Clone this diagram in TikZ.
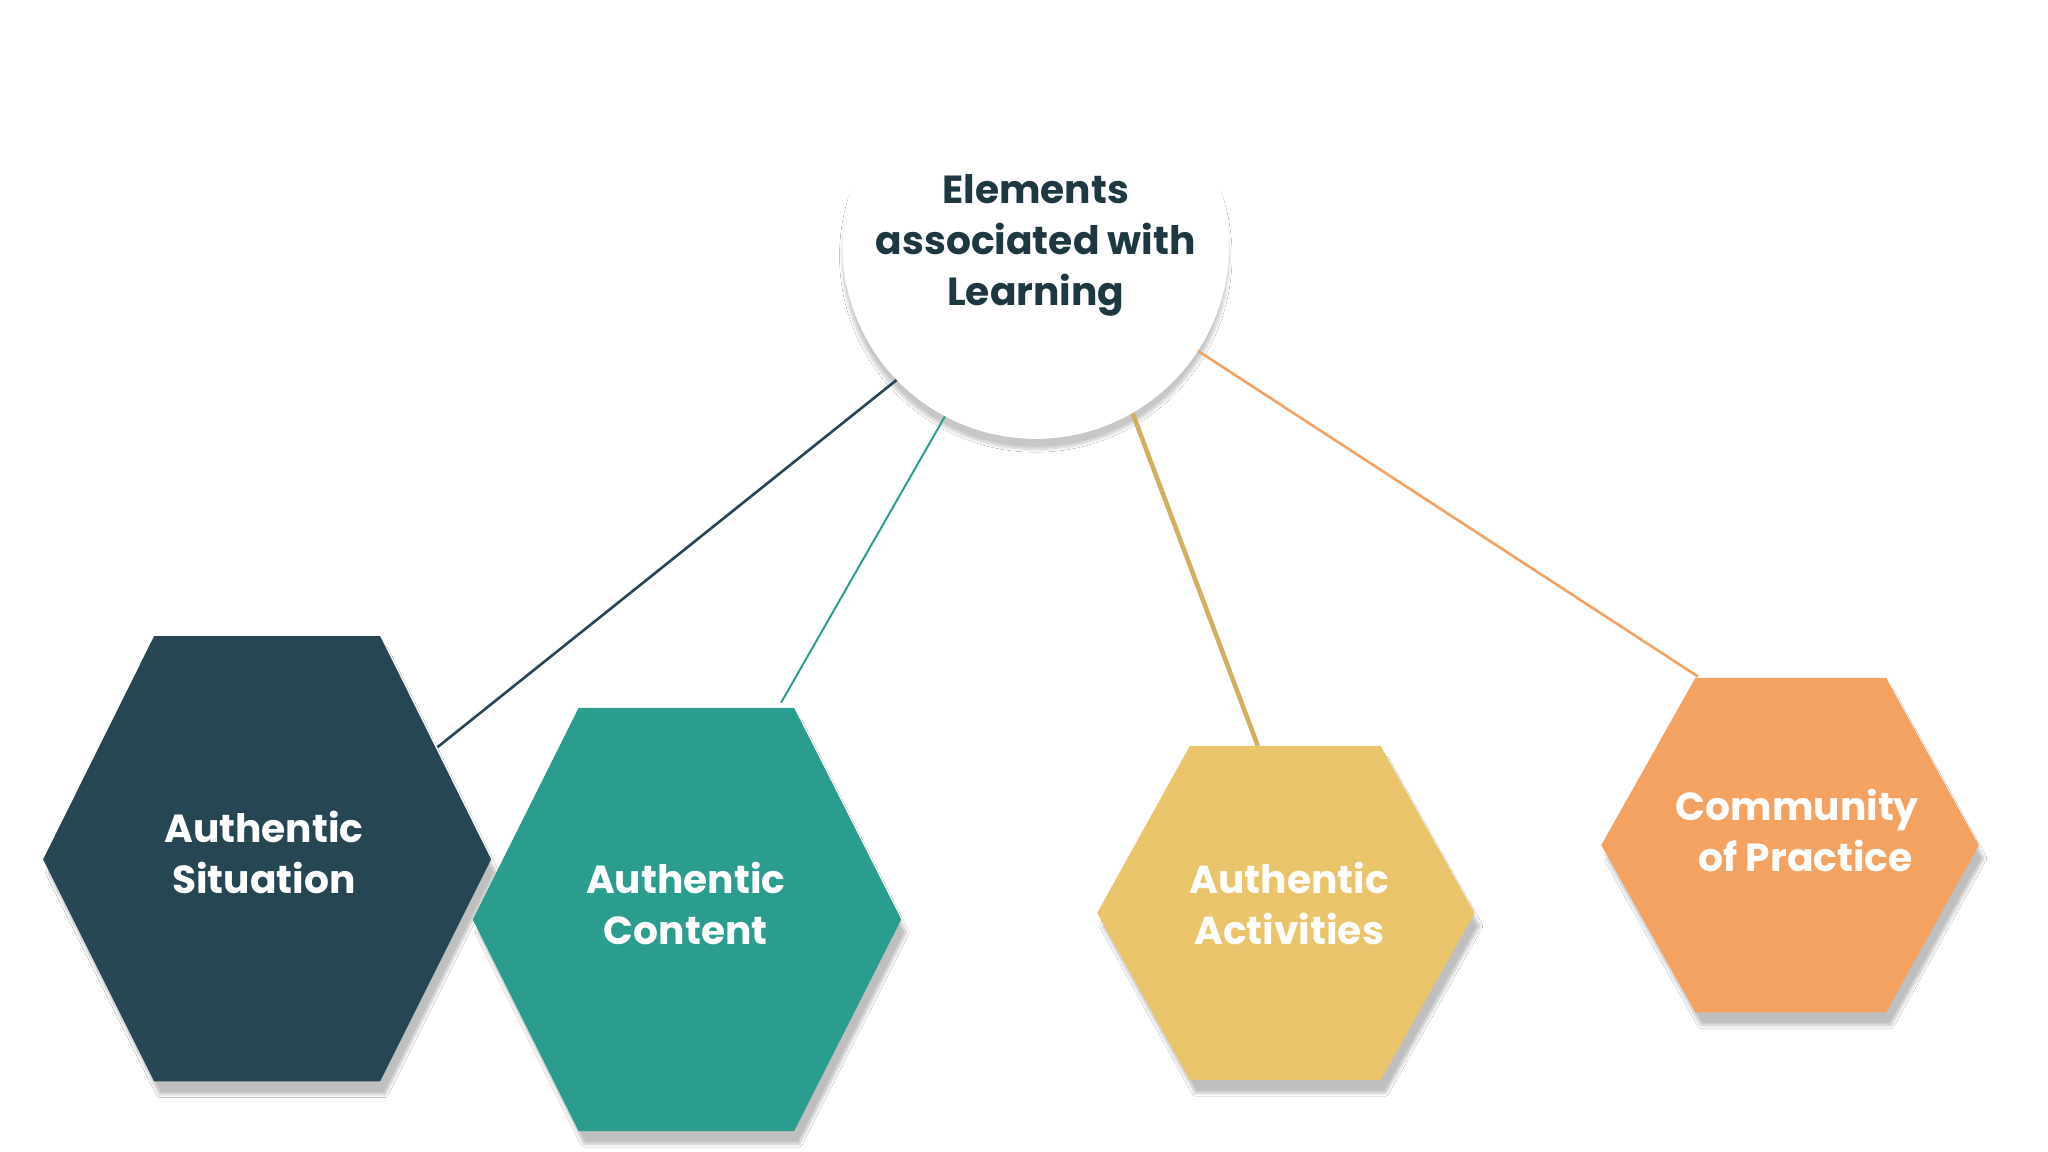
\documentclass[tikz,border=0pt]{standalone}
\usepackage{fontspec}
\setmainfont{Poppins}
\usetikzlibrary{shadows.blur}
\definecolor{cdark}{HTML}{264653}
\definecolor{cteal}{HTML}{2A9D8F}
\definecolor{cyel}{HTML}{E9C46A}
\definecolor{corg}{HTML}{F4A261}
\begin{document}
\begin{tikzpicture}[x=1pt,y=-1pt,
  hex/.style={blur shadow={shadow xshift=4pt,shadow yshift=-10pt,shadow blur steps=12,shadow opacity=25}},
  lbl/.style={align=center,font=\fontsize{30}{39}\selectfont\bfseries,text=white},
  conn/.style={line width=2pt}]
\useasboundingbox[fill=white] (0,0) rectangle (1568,882);
\node[circle,minimum size=296pt,fill=white,blur shadow={shadow xshift=0pt,shadow yshift=-8pt,shadow blur steps=14,shadow opacity=22},
  align=center,font=\fontsize{30}{39}\selectfont\bfseries,text=cdark!80!black] (c) at (793,188) {Elements\\associated with\\Learning};
\fill[cdark,hex] (118,487)--(291,487)--(376,658)--(291,828)--(118,828)--(33,658)--cycle;
\fill[cteal,hex] (443,542)--(608,542)--(690,704)--(608,866)--(443,866)--(362,704)--cycle;
\fill[cyel,hex] (911,571)--(1057,571)--(1129,699)--(1057,827)--(911,827)--(840,699)--cycle;
\fill[corg,hex] (1298,519)--(1444,519)--(1515,647)--(1444,775)--(1298,775)--(1226,647)--cycle;
\node[lbl] (h1) at (202,653) {Authentic\\Situation};
\node[lbl] (h2) at (525,692) {Authentic\\Content};
\node[lbl] (h3) at (987,692) {Authentic\\Activities};
\node[lbl] (h4) at (1376,636) {Community\\\ \ of Practice};
\coordinate (e1) at (335,572);
\coordinate (e2) at (598,538);
\coordinate (e3) at (963,571);
\coordinate (e4) at (1300,518);
\draw[conn,cdark] (c.224) -- (e1);
\draw[conn,cteal,line width=1.5pt] (c.242) -- (e2);
\draw[conn,cyel!90!black,line width=3.5pt] (c.300) -- (e3);
\draw[conn,corg] (c.327) -- (e4);
\end{tikzpicture}
\end{document}
